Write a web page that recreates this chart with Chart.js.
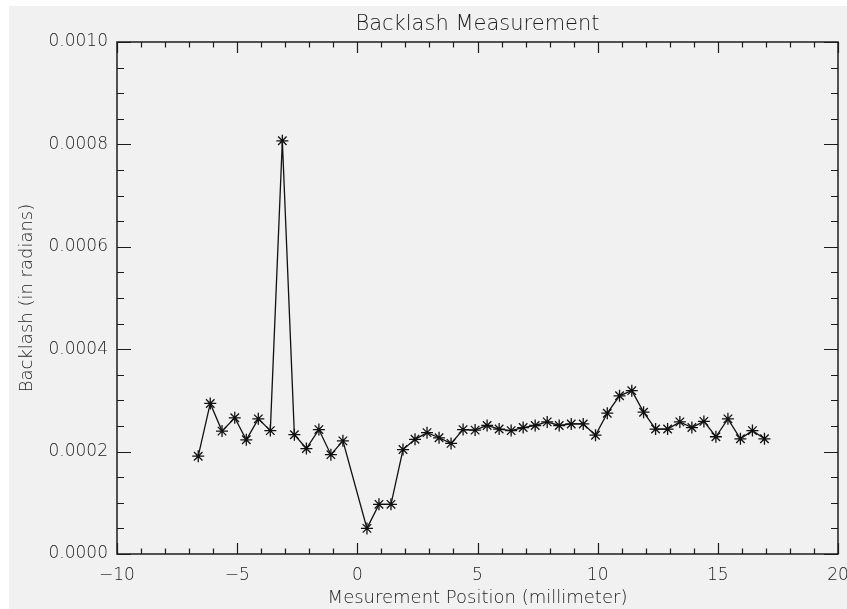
<!DOCTYPE html>
<html>
<head>
<meta charset="utf-8">
<script src="https://cdn.jsdelivr.net/npm/chart.js@4/dist/chart.umd.min.js"></script>
<style>
    html, body { margin: 0; padding: 0; background: #ffffff; }
    #wrap { position: absolute; left: 9px; top: 6px; width: 838px; height: 603px; background: #f1f1f1; }
    canvas { display: block; }
</style>
</head>
<body>
<div id="wrap"><canvas id="backlashChart" width="838" height="603"></canvas></div>
<script>
// position in millimeter
const positions = [
    -6.62, -6.12, -5.63, -5.10, -4.62, -4.12, -3.62, -3.12, -2.62, -2.12, -1.60, -1.10, -0.60,
    0.40, 0.90, 1.40, 1.90, 2.40, 2.90, 3.40, 3.90, 4.40, 4.90, 5.40, 5.90, 6.40, 6.90, 7.40,
    7.90, 8.40, 8.90, 9.40, 9.91, 10.40, 10.91, 11.42, 11.91, 12.41, 12.91, 13.42, 13.92, 14.42,
    14.92, 15.42, 15.94, 16.44, 16.94
];
// backlash in radians
const backlash = [
    0.000191, 0.000294, 0.000240, 0.000266, 0.000223, 0.000264, 0.000241, 0.000807, 0.000233, 0.000206, 0.000243, 0.000194, 0.000221,
    0.000050, 0.000097, 0.000097, 0.000204, 0.000224, 0.000237, 0.000227, 0.000216, 0.000243, 0.000242, 0.000251, 0.000244, 0.000241, 0.000247, 0.000251,
    0.000258, 0.000251, 0.000254, 0.000254, 0.000232, 0.000275, 0.000309, 0.000319, 0.000277, 0.000244, 0.000244, 0.000258, 0.000247, 0.000259,
    0.000229, 0.000264, 0.000225, 0.000241, 0.000225
];
const xTicks = [-10, -5, 0, 5, 10, 15, 20];
const yTicks = [0, 0.0002, 0.0004, 0.0006, 0.0008, 0.0010];
const chartTitle = 'Backlash Measurement';

const ink = '#1c1c1c';
const fontFamily = "'DejaVu Sans', sans-serif";

// IDL style frame: box round the plot with ticks pointing inward, title centred on the plot
const framePlugin = {
    id: 'frame',
    afterDatasetsDraw(chart) {
        const ctx = chart.ctx;
        const { left, right, top, bottom } = chart.chartArea;
        const xs = chart.scales.x;
        const ys = chart.scales.y;
        ctx.save();
        ctx.strokeStyle = ink;
        ctx.lineWidth = 1.5;
        ctx.strokeRect(left, top, right - left, bottom - top);
        ctx.lineWidth = 1.2;
        ctx.beginPath();
        for (let v = xTicks[0]; v <= xTicks[xTicks.length - 1]; v += 1) {
            const px = Math.round(xs.getPixelForValue(v)) + 0.5;
            const len = (v % 5 === 0) ? 11 : 5.5;
            ctx.moveTo(px, bottom); ctx.lineTo(px, bottom - len);
            ctx.moveTo(px, top); ctx.lineTo(px, top + len);
        }
        for (let i = 0; i <= 20; i++) {
            const v = i * 0.00005;
            const py = Math.round(ys.getPixelForValue(v)) + 0.5;
            const len = (i % 4 === 0) ? 14 : 7;
            ctx.moveTo(left, py); ctx.lineTo(left + len, py);
            ctx.moveTo(right, py); ctx.lineTo(right - len, py);
        }
        ctx.stroke();

        ctx.fillStyle = ink;
        ctx.font = "200 21px 'DejaVu Sans', sans-serif";
        ctx.textAlign = 'center';
        ctx.textBaseline = 'middle';
        ctx.fillText(chartTitle, (left + right) / 2, 18.5);
        ctx.restore();
    }
};

const ctx = document.getElementById('backlashChart').getContext('2d');
new Chart(ctx, {
    type: 'scatter',
    data: {
        datasets: [{
            label: 'Backlash',
            data: positions.map((x, i) => ({ x: x, y: backlash[i] })),
            showLine: true,
            borderColor: '#111111',
            borderWidth: 1.3,
            pointStyle: 'star',
            pointRadius: 6,
            pointBorderWidth: 1.3,
            pointBorderColor: '#111111',
            pointBackgroundColor: '#111111',
            tension: 0,
        }],
    },
    options: {
        responsive: false,
        animation: false,
        layout: {
            autoPadding: false,
            padding: { left: 0, right: 9, top: 36, bottom: 0 },
        },
        plugins: {
            legend: { display: false },
            tooltip: { enabled: false },
            title: { display: false },
        },
        scales: {
            x: {
                type: 'linear',
                min: -10,
                max: 20,
                grid: { display: false, drawTicks: false },
                border: { display: false },
                ticks: {
                    stepSize: 5,
                    padding: 11,
                    color: ink,
                    maxRotation: 0,
                    font: { family: fontFamily, size: 17, weight: '200' },
                    callback: (v) => String(v).replace('-', '\u2212'),
                },
                title: {
                    display: true,
                    text: 'Mesurement Position (millimeter)',
                    color: ink,
                    font: { family: fontFamily, size: 18, weight: '200' },
                    padding: { top: 0, bottom: 0 },
                },
                afterBuildTicks: (scale) => { scale.ticks = xTicks.map(v => ({ value: v })); },
                afterFit: (scale) => { scale.height = 55; scale.paddingLeft = 0; scale.paddingRight = 0; },
            },
            y: {
                min: 0,
                max: 0.001,
                grid: { display: false, drawTicks: false },
                border: { display: false },
                ticks: {
                    padding: 9,
                    color: ink,
                    font: { family: fontFamily, size: 17, weight: '200' },
                    callback: (v) => Number(v).toFixed(4),
                },
                title: {
                    display: true,
                    text: 'Backlash (in radians)',
                    color: ink,
                    font: { family: fontFamily, size: 18, weight: '200' },
                    padding: { top: 8, bottom: 0 },
                },
                afterBuildTicks: (scale) => { scale.ticks = yTicks.map(v => ({ value: v })); },
                afterFit: (scale) => { scale.width = 108; scale.paddingTop = 0; scale.paddingBottom = 0; },
            },
        },
    },
    plugins: [framePlugin],
});
</script>
</body>
</html>
